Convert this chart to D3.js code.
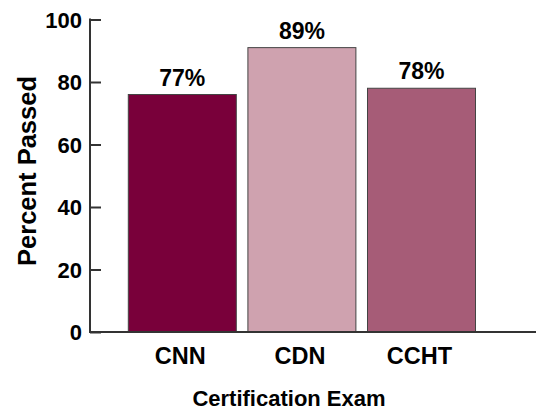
<!DOCTYPE html>
<html>
<head>
<meta charset="utf-8">
<script src="https://cdn.jsdelivr.net/npm/d3@7"></script>
<style>
  html, body { margin: 0; padding: 0; background: #fff; }
  svg text { font-family: "Liberation Sans", Arial, Helvetica, sans-serif; font-weight: bold; fill: #000; }
</style>
</head>
<body>
<svg id="chart" width="536" height="411"></svg>
<script>
const categories = ["CNN", "CDN", "CCHT"];
const values = [76, 91, 78];
const valueLabels = ["77%", "89%", "78%"];
const colors = ["#79003a", "#cfa2af", "#a65c77"];
const yTicks = [0, 20, 40, 60, 80, 100];
const xTitle = "Certification Exam";
const yTitle = "Percent Passed";

const svg = d3.select("#chart");
const axisX = 90, baseY = 332, topY = 19.5;

const y = d3.scaleLinear().domain([0, 100]).range([baseY, topY]);
const x = d3.scaleBand().domain(categories).range([122.5, 481.3])
  .paddingInner(0.097).paddingOuter(0.0485);

// bars
svg.selectAll("rect.bar").data(categories).join("rect")
  .attr("class", "bar")
  .attr("x", d => x(d))
  .attr("width", x.bandwidth())
  .attr("y", (d, i) => y(values[i]))
  .attr("height", (d, i) => baseY - y(values[i]))
  .attr("fill", (d, i) => colors[i])
  .attr("stroke", "#444")
  .attr("stroke-width", 1);

// value labels
svg.selectAll("text.val").data(categories).join("text")
  .attr("class", "val")
  .attr("x", d => x(d) + x.bandwidth() / 2)
  .attr("y", (d, i) => y(values[i]) - 9)
  .attr("text-anchor", "middle")
  .attr("font-size", 23)
  .text((d, i) => valueLabels[i]);

// y axis
const yAxis = d3.axisRight(y).tickValues(yTicks).tickSize(11).tickFormat("");
const gy = svg.append("g").attr("transform", `translate(${axisX},0)`).call(yAxis);
gy.select(".domain").remove();
gy.selectAll(".tick line").attr("stroke", "#333").attr("stroke-width", 2);
svg.append("line").attr("x1", axisX).attr("x2", axisX)
  .attr("y1", y(100) - 1).attr("y2", baseY + 1)
  .attr("stroke", "#333").attr("stroke-width", 2);

svg.selectAll("text.ytick").data(yTicks).join("text")
  .attr("class", "ytick")
  .attr("x", axisX - 8)
  .attr("y", d => y(d) + 8)
  .attr("text-anchor", "end")
  .attr("font-size", 22)
  .text(d => d);

// x axis
const xAxis = d3.axisBottom(x).tickSize(0).tickFormat("");
const gx = svg.append("g").attr("transform", `translate(0,${baseY})`).call(xAxis);
gx.select(".domain").remove();
svg.append("line").attr("x1", axisX - 1).attr("x2", 536)
  .attr("y1", baseY).attr("y2", baseY)
  .attr("stroke", "#333").attr("stroke-width", 2);

svg.selectAll("text.cat").data(categories).join("text")
  .attr("class", "cat")
  .attr("x", d => x(d) + x.bandwidth() / 2 - 2)
  .attr("y", 364)
  .attr("text-anchor", "middle")
  .attr("font-size", 23.5)
  .text(d => d);

// titles
svg.append("text").attr("x", 289).attr("y", 406)
  .attr("text-anchor", "middle").attr("font-size", 22).text(xTitle);

svg.append("text").attr("transform", "translate(36,171) rotate(-90)")
  .attr("text-anchor", "middle").attr("font-size", 25.5).text(yTitle);
</script>
</body>
</html>
